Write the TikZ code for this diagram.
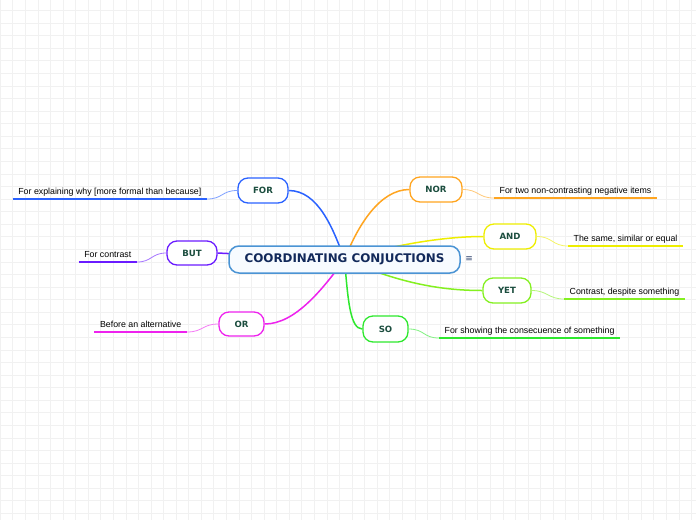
\documentclass[tikz,border=0pt]{standalone}
\usepackage{fontspec}
\setmainfont{Liberation Sans}
\newfontfamily\verdfont{DejaVu Sans}
\usepackage{xcolor}
\usepackage{tikz}
\usetikzlibrary{positioning, backgrounds}
\definecolor{gridline}{HTML}{F1F1F1}
\definecolor{hubline}{HTML}{4B94D4}
\definecolor{hubfill}{HTML}{F7FBFF}
\definecolor{hubtext}{HTML}{12295A}
\definecolor{conjtext}{HTML}{1B4D3E}
\definecolor{cfor}{HTML}{2A62FF}
\definecolor{cnor}{HTML}{FFA520}
\definecolor{cbut}{HTML}{6A1BFF}
\definecolor{cand}{HTML}{EEEE00}
\definecolor{cyet}{HTML}{84F020}
\definecolor{cso}{HTML}{2EE82E}
\definecolor{cor}{HTML}{EE22EE}
\newcommand{\notefont}{\fontsize{8.8}{10}\selectfont}
\newcommand{\conjfont}{\verdfont\bfseries\fontsize{8.6}{10}\selectfont}

\begin{document}
\begin{tikzpicture}[x=1pt, y=-1pt,
  topicbox/.style={draw=hubline, line width=1.5pt, fill=hubfill, rounded corners=10pt,
    minimum width=231pt, minimum height=27pt, inner sep=0pt,
    font=\verdfont\bfseries\fontsize{11.9}{13}\selectfont, text=hubtext},
  conj/.style={draw=#1, line width=1.3pt, fill=white, rounded corners=10pt,
    minimum height=25pt, inner sep=0pt, font=\conjfont, text=conjtext},
  note/.style={font=\notefont, inner xsep=5.5pt, inner ysep=2pt,
    text height=7pt, text depth=2pt},
  branch/.style={line width=1.5pt},
  twig/.style={line width=0.8pt, draw=#1!60},
  underline/.style={line width=2pt}]
\useasboundingbox (0,0) rectangle (696,520);

% grid paper
\begin{pgfonlayer}{background}
\fill[white] (0,0) rectangle (696,520);
\foreach \i in {0,...,55}
  \draw[gridline, line width=1pt] (0.3+12.57*\i,0) -- (0.3+12.57*\i,520);
\foreach \j in {0,...,40}
  \draw[gridline, line width=1pt] (0,10.7+12.57*\j) -- (696,10.7+12.57*\j);
\end{pgfonlayer}

% central topic
\node[topicbox] (topic) at (344.5,259.5) {COORDINATING CONJUCTIONS};
\node[inner sep=0pt, right=4.5pt of topic, text=hubtext!85,
      font=\verdfont\fontsize{9}{10}\selectfont] (menu) {≡};

% conjunctions
\node[conj=cfor, minimum width=50pt] (for) at (263,190.5) {FOR};
\node[conj=cnor, minimum width=52pt] (nor) at (436,189.5) {NOR};
\node[conj=cbut, minimum width=50pt, minimum height=24pt] (but) at (192,253) {BUT};
\node[conj=cand, minimum width=52pt] (and) at (510,236.5) {AND};
\node[conj=cyet, minimum width=48pt] (yet) at (507,290.5) {YET};
\node[conj=cor, minimum width=45pt, minimum height=24pt] (or) at (241.5,324) {OR};
\node[conj=cso, minimum width=45pt, minimum height=26pt] (so) at (385.5,329) {SO};

% notes
\node[note, anchor=south east] (fornote) at (207,199) {For explaining why [more formal than because]};
\node[note, anchor=south west] (nornote) at (494,198) {For two non-contrasting negative items};
\node[note, anchor=south east] (butnote) at (137,262) {For contrast};
\node[note, anchor=south west] (andnote) at (568,246) {The same, similar or equal};
\node[note, anchor=south west] (yetnote) at (564,299) {Contrast, despite something};
\node[note, anchor=south east] (ornote) at (187,332) {Before an alternative};
\node[note, anchor=south west] (sonote) at (439,338) {For showing the consecuence of something};

\draw[underline, cfor] (fornote.south west) -- (fornote.south east);
\draw[underline, cnor] (nornote.south west) -- (nornote.south east);
\draw[underline, cbut] (butnote.south west) -- (butnote.south east);
\draw[underline, cand] (andnote.south west) -- (andnote.south east);
\draw[underline, cyet] (yetnote.south west) -- (yetnote.south east);
\draw[underline, cor] (ornote.south west) -- (ornote.south east);
\draw[underline, cso] (sonote.south west) -- (sonote.south east);

% branches behind the topic
\begin{pgfonlayer}{background}
\draw[branch, cfor] (for.east) .. controls (318,190.5) and (333,228) .. (topic.center);
\draw[branch, cnor] (topic.center) .. controls (358,225) and (380,189.5) .. (nor.west);
\draw[branch, cbut] (but.east) -- (topic.center);
\draw[branch, cand] (topic.center) .. controls (390,246) and (440,236.5) .. (and.west);
\draw[branch, cyet] (topic.center) .. controls (400,283) and (440,290.5) .. (yet.west);
\draw[branch, cso] (topic.center) .. controls (348,300) and (350,329) .. (so.west);
\draw[branch, cor] (topic.center) .. controls (322,290) and (295,324) .. (or.east);
\end{pgfonlayer}

% note links
\draw[twig=cfor] (fornote.south east) .. controls +(16,0) and +(-16,0) .. (for.west);
\draw[twig=cnor] (nor.east) .. controls +(16,0) and +(-16,0) .. (nornote.south west);
\draw[twig=cbut] (butnote.south east) .. controls +(15,0) and +(-15,0) .. (but.west);
\draw[twig=cand] (and.east) .. controls +(16,0) and +(-16,0) .. (andnote.south west);
\draw[twig=cyet] (yet.east) .. controls +(16,0) and +(-16,0) .. (yetnote.south west);
\draw[twig=cor] (ornote.south east) .. controls +(16,0) and +(-16,0) .. (or.west);
\draw[twig=cso] (so.east) .. controls +(16,0) and +(-16,0) .. (sonote.south west);
\end{tikzpicture}
\end{document}
